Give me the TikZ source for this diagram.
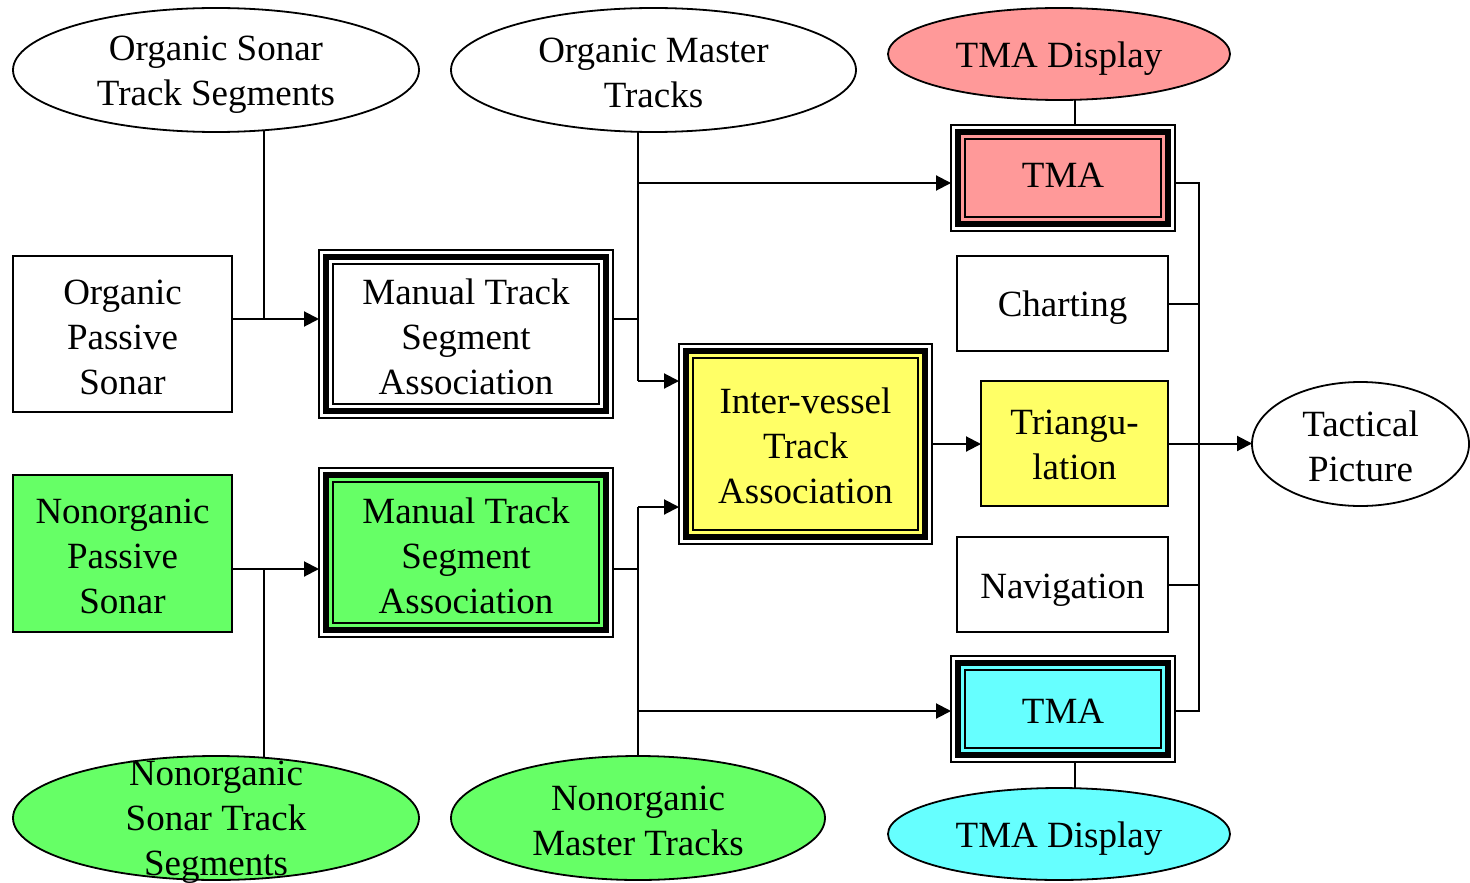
\documentclass[tikz,border=0pt]{standalone}
\usepackage{fontspec}
\setmainfont{Liberation Serif}
\usetikzlibrary{shapes.geometric,arrows.meta,backgrounds,calc}
\definecolor{tmared}{HTML}{FF9999}
\definecolor{nongreen}{HTML}{66FF66}
\definecolor{ivyellow}{HTML}{FFFF66}
\definecolor{tmacyan}{HTML}{66FFFF}
\begin{document}
\begin{tikzpicture}[x=0.5pt,y=-0.5pt,
  every node/.style={font=\fontsize{18.5}{22.5}\selectfont, align=center, inner sep=0pt, outer sep=0pt},
  sbox/.style={draw, rectangle, line width=1.2pt},
  tbox/.style={draw, rectangle, line width=3pt},
  oval/.style={draw, ellipse, line width=0.9pt},
  conn/.style={line width=1pt},
  arr/.style={conn, -{Triangle[length=7.5pt,width=7.5pt]}},
  trip/.style={line width=0.7pt},
  lbl/.style={}
]
\useasboundingbox (0,0) rectangle (1470,882);

% ellipses
\node[oval, fill=white, minimum width=203pt, minimum height=62pt] (oste) at (216,70) {};
\node[lbl] (oste-t) at (216,75) {Organic Sonar\\Track Segments};
\node[oval, fill=white, minimum width=202.5pt, minimum height=62pt] (omt) at (653.5,70) {};
\node[lbl] (omt-t) at (653.5,73) {Organic Master\\Tracks};
\node[oval, fill=tmared, minimum width=171pt, minimum height=46pt] (tmad1) at (1059,54) {};
\node[lbl] (tmad1-t) at (1059,59) {TMA Display};
\node[oval, fill=white, minimum width=108.5pt, minimum height=62pt] (tp) at (1360.5,444) {};
\node[lbl] (tp-t) at (1360.5,446) {Tactical\\Picture};
\node[oval, fill=nongreen, minimum width=203pt, minimum height=62pt] (nste) at (216,818) {};
\node[lbl] (nste-t) at (216,822) {Nonorganic\\Sonar Track\\Segments};
\node[oval, fill=nongreen, minimum width=187pt, minimum height=62pt] (nmt) at (638,818) {};
\node[lbl] (nmt-t) at (638,821) {Nonorganic\\Master Tracks};
\node[oval, fill=tmacyan, minimum width=171pt, minimum height=46pt] (tmad2) at (1059,834) {};
\node[lbl] (tmad2-t) at (1059,839) {TMA Display};

% simple boxes
\node[sbox, fill=white, minimum width=109.5pt, minimum height=78pt] (ops) at (122.5,334) {};
\node[lbl] (ops-t) at (122.5,337) {Organic\\Passive\\Sonar};
\node[sbox, fill=nongreen, minimum width=109.5pt, minimum height=78.5pt] (nps) at (122.5,553.5) {};
\node[lbl] (nps-t) at (122.5,556) {Nonorganic\\Passive\\Sonar};
\node[sbox, fill=white, minimum width=105.5pt, minimum height=47.5pt] (chart) at (1062.5,303.5) {};
\node[lbl] (chart-t) at (1062.5,308) {Charting};
\node[sbox, fill=white, minimum width=105.5pt, minimum height=47.5pt] (nav) at (1062.5,584.5) {};
\node[lbl] (nav-t) at (1062.5,590) {Navigation};
\node[sbox, fill=ivyellow, minimum width=93.5pt, minimum height=62.5pt] (tri) at (1074.5,443.5) {};
\node[lbl] (tri-t) at (1074.5,444.5) {Triangu-\\lation};

% triple-border boxes
\node[tbox, fill=white, minimum width=140pt, minimum height=77pt] (mtsa1) at (466,334) {};
\node[lbl] (mtsa1-t) at (466,337) {Manual Track\\Segment\\Association};
\node[tbox, fill=nongreen, minimum width=140pt, minimum height=77.5pt] (mtsa2) at (466,552.5) {};
\node[lbl] (mtsa2-t) at (466,555.5) {Manual Track\\Segment\\Association};
\node[tbox, fill=ivyellow, minimum width=119.5pt, minimum height=93pt] (ivta) at (805.5,444) {};
\node[lbl] (ivta-t) at (805.5,446) {Inter-vessel\\Track\\Association};
\node[tbox, fill=tmared, minimum width=105pt, minimum height=46pt] (tma1) at (1063,178) {};
\node[lbl] (tma1-t) at (1063,175) {TMA};
\node[tbox, fill=tmacyan, minimum width=105pt, minimum height=46pt] (tma2) at (1063,709) {};
\node[lbl] (tma2-t) at (1063,711) {TMA};

\foreach \n in {mtsa1,mtsa2,ivta,tma1,tma2}{
  \draw[trip] ($(\n.north west)+(-7,-7)$) rectangle ($(\n.south east)+(7,7)$);
  \draw[trip] ($(\n.north west)+(7,7)$) rectangle ($(\n.south east)+(-7,-7)$);
}

% junction coordinates
\coordinate (ja) at (264,319);
\coordinate (jb) at (638,319);
\coordinate (jc) at (638,183);
\coordinate (jd) at (638,381);
\coordinate (je) at (264,569);
\coordinate (jf) at (638,569);
\coordinate (jg) at (638,507);
\coordinate (jh) at (638,711);
\coordinate (bus) at (1199,444);
\coordinate (kv) at (1075,444);

\begin{pgfonlayer}{background}
% organic side
\draw[arr, shorten >=3.5pt] (ops.east |- ja) -- (mtsa1.west |- ja);
\draw[conn] (oste.center -| ja) -- (ja);
\draw[conn, shorten <=3.5pt] (mtsa1.east |- jb) -- (jb);
\draw[conn] (omt.center -| jb) -- (jd);
\draw[arr, shorten >=3.5pt] (jd) -- (ivta.west |- jd);
\draw[arr, shorten >=3.5pt] (jc) -- (tma1.west |- jc);
% nonorganic side
\draw[arr, shorten >=3.5pt] (nps.east |- je) -- (mtsa2.west |- je);
\draw[conn] (nste.center -| je) -- (je);
\draw[conn, shorten <=3.5pt] (mtsa2.east |- jf) -- (jf);
\draw[conn] (nmt.center) -- (jg);
\draw[arr, shorten >=3.5pt] (jg) -- (ivta.west |- jg);
\draw[arr, shorten >=3.5pt] (jh) -- (tma2.west |- jh);
% middle
\draw[arr, shorten <=3.5pt] (ivta.east) -- (ivta.east -| tri.west);
\draw[conn, shorten >=3.5pt] (tmad1.center -| kv) -- (tma1.north -| kv);
\draw[conn, shorten >=3.5pt] (tmad2.center -| kv) -- (tma2.south -| kv);
% right bus
\draw[conn, shorten <=3.5pt, shorten >=3.5pt] (tma1.east |- jc) -- (jc -| bus) -- (jh -| bus) -- (tma2.east |- jh);
\draw[conn] (chart.east) -- (chart.east -| bus);
\draw[conn] (nav.east) -- (nav.east -| bus);
\draw[arr] (tri.east) -- (tri.east -| tp.west);
\end{pgfonlayer}
\end{tikzpicture}
\end{document}
